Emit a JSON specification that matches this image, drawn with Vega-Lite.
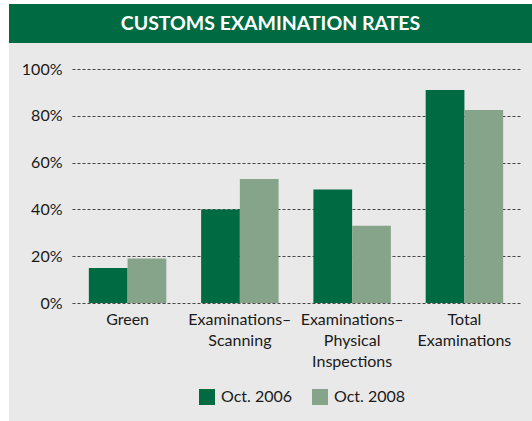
{
  "$schema": "https://vega.github.io/schema/vega-lite/v6.json",
  "background": "#e9e9e9",
  "padding": 0,
  "spacing": 0,
  "config": {"view": {"stroke": null}, "font": "Lato"},
  "resolve": {"legend": {"color": "independent"}},
  "hconcat": [
    {
      "width": 9,
      "height": 421,
      "view": {"fill": "white"},
      "data": {"values": [{}]},
      "mark": {"type": "rect", "color": "white"},
      "encoding": {}
    },
    {
      "spacing": 0,
      "resolve": {"legend": {"color": "independent"}},
      "vconcat": [
        {
          "width": 523,
          "height": 4,
          "view": {"fill": "white"},
          "data": {"values": [{}]},
          "mark": {"type": "rect", "color": "white"},
          "encoding": {}
        },
        {
          "spacing": 18,
          "resolve": {"legend": {"color": "independent"}},
          "vconcat": [
            {
              "width": 523,
              "height": 39,
              "view": {"fill": "#006b42"},
              "data": {"values": [{"title": "CUSTOMS EXAMINATION RATES"}]},
              "mark": {"type": "text", "color": "white", "font": "Lato", "fontWeight": "bold", "fontSize": 19.5},
              "encoding": {"text": {"field": "title"}}
            },
            {
              "spacing": 0,
              "resolve": {"legend": {"color": "independent"}},
              "hconcat": [
                {
                  "width": 1,
                  "height": 1,
                  "data": {"values": []},
                  "mark": {"type": "text"},
                  "encoding": {}
                },
                {
                  "width": 448,
                  "height": 234,
                  "data": {
                    "values": [
                      {"category": "Green", "year": "Oct. 2006", "rate": 0.15},
                      {"category": "Green", "year": "Oct. 2008", "rate": 0.19},
                      {"category": "Examinations–Scanning", "year": "Oct. 2006", "rate": 0.40},
                      {"category": "Examinations–Scanning", "year": "Oct. 2008", "rate": 0.53},
                      {"category": "Examinations–Physical Inspections", "year": "Oct. 2006", "rate": 0.485},
                      {"category": "Examinations–Physical Inspections", "year": "Oct. 2008", "rate": 0.33},
                      {"category": "Total Examinations", "year": "Oct. 2006", "rate": 0.91},
                      {"category": "Total Examinations", "year": "Oct. 2008", "rate": 0.825}
                    ]
                  },
                  "mark": {"type": "bar"},
                  "encoding": {
                    "x": {
                      "field": "category",
                      "type": "nominal",
                      "sort": null,
                      "scale": {"paddingInner": 0.31, "paddingOuter": 0.15},
                      "axis": {
                        "title": null,
                        "labelAngle": 0,
                        "domain": false,
                        "ticks": false,
                        "labelPadding": 8,
                        "labelFontSize": 16,
                        "labelLineHeight": 21,
                        "labelColor": "#1a1a1a",
                        "labelLimit": 0,
                        "labelExpr": "split(replace(replace(datum.value, '–', '–|'), ' ', '|'), '|')"
                      }
                    },
                    "xOffset": {"field": "year", "type": "nominal", "sort": null},
                    "y": {
                      "field": "rate",
                      "type": "quantitative",
                      "scale": {"domain": [0, 1]},
                      "axis": {
                        "title": null,
                        "format": ".0%",
                        "values": [0, 0.2, 0.4, 0.6, 0.8, 1],
                        "domain": false,
                        "ticks": false,
                        "labelPadding": 10,
                        "labelFontSize": 16,
                        "labelColor": "#1a1a1a",
                        "gridDash": [3, 2],
                        "gridColor": "#444444",
                        "gridOpacity": 1,
                        "minExtent": 62,
                        "maxExtent": 62
                      }
                    },
                    "color": {
                      "field": "year",
                      "type": "nominal",
                      "scale": {"range": ["#006b42", "#86a48a"]},
                      "legend": {
                        "title": null,
                        "orient": "none",
                        "legendX": 127,
                        "legendY": 320,
                        "direction": "horizontal",
                        "symbolType": "square",
                        "symbolSize": 256,
                        "symbolStrokeWidth": 0,
                        "symbolOpacity": 1,
                        "labelFontSize": 16,
                        "labelColor": "#1a1a1a",
                        "labelOffset": 6,
                        "columnPadding": 19
                      }
                    }
                  }
                }
              ]
            }
          ]
        }
      ]
    }
  ]
}
